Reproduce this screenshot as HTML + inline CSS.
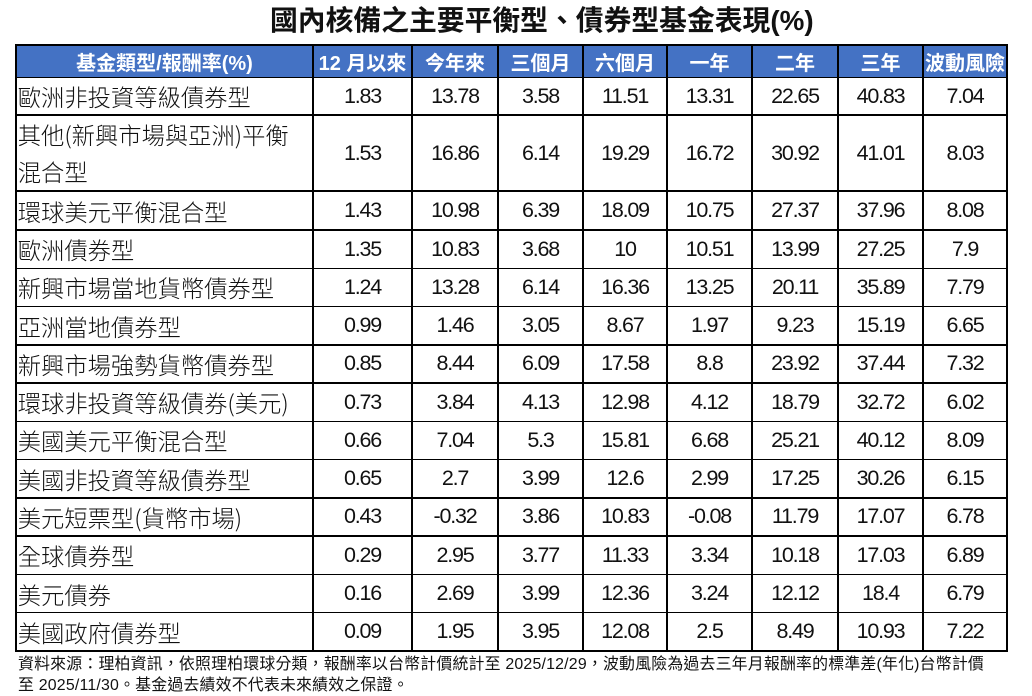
<!DOCTYPE html>
<html>
<head>
<meta charset="utf-8">
<style>
  html, body { margin:0; padding:0; background:#fff; }
  body { width:1032px; height:696px; position:relative; overflow:hidden;
         font-family:"Liberation Sans","Noto Sans CJK TC",sans-serif; color:#000; }
  .title { position:absolute; left:270px; top:5px; height:32px; line-height:32px;
           font-size:27.8px; font-weight:bold; white-space:nowrap; color:#111;
           font-family:"Liberation Sans","Noto Sans CJK TC",sans-serif; }
  .grid { position:absolute; left:15.25px; top:44.25px; padding:1.5px; background:#000;
          display:grid; gap:1.5px;
          grid-template-columns:295.5px 97.5px 84.5px 83.5px 82.5px 83.5px 84.5px 83.5px 82.5px;
          grid-template-rows:31px 36px 74.5px 37.5px repeat(11, 36.77px); }
  .grid > div { background:#fff; display:flex; align-items:center; justify-content:center;
                white-space:nowrap; overflow:hidden; }
  .grid > div.h { background:#4472C4; color:#fff; font-weight:bold; font-size:20px; }
  .grid > div.n { font-size:21.5px; letter-spacing:-1.2px; color:#111; }
  .grid > div.c { justify-content:flex-start; padding-left:1px; font-size:23.3px; font-weight:300;
                  font-family:"Noto Sans CJK TC","Liberation Sans",sans-serif; color:#111; }
  .grid > div.c2 { line-height:37px; white-space:normal; align-items:center; }
  .foot { position:absolute; left:18px; top:654px; font-size:15.9px; line-height:21px;
          white-space:nowrap; color:#111;
          font-family:"Liberation Sans","Noto Sans CJK TC",sans-serif; letter-spacing:0.2px; }
</style>
</head>
<body>
<div class="title">國內核備之主要平衡型、債券型基金表現(%)</div>
<div class="grid">
  <div class="h">基金類型/報酬率(%)</div><div class="h">12 月以來</div><div class="h">今年來</div><div class="h">三個月</div><div class="h">六個月</div><div class="h">一年</div><div class="h">二年</div><div class="h">三年</div><div class="h">波動風險</div>

  <div class="c">歐洲非投資等級債券型</div><div class="n">1.83</div><div class="n">13.78</div><div class="n">3.58</div><div class="n">11.51</div><div class="n">13.31</div><div class="n">22.65</div><div class="n">40.83</div><div class="n">7.04</div>

  <div class="c c2"><span>其他(新興市場與亞洲)平衡<br>混合型</span></div><div class="n">1.53</div><div class="n">16.86</div><div class="n">6.14</div><div class="n">19.29</div><div class="n">16.72</div><div class="n">30.92</div><div class="n">41.01</div><div class="n">8.03</div>

  <div class="c">環球美元平衡混合型</div><div class="n">1.43</div><div class="n">10.98</div><div class="n">6.39</div><div class="n">18.09</div><div class="n">10.75</div><div class="n">27.37</div><div class="n">37.96</div><div class="n">8.08</div>

  <div class="c">歐洲債券型</div><div class="n">1.35</div><div class="n">10.83</div><div class="n">3.68</div><div class="n">10</div><div class="n">10.51</div><div class="n">13.99</div><div class="n">27.25</div><div class="n">7.9</div>

  <div class="c">新興市場當地貨幣債券型</div><div class="n">1.24</div><div class="n">13.28</div><div class="n">6.14</div><div class="n">16.36</div><div class="n">13.25</div><div class="n">20.11</div><div class="n">35.89</div><div class="n">7.79</div>

  <div class="c">亞洲當地債券型</div><div class="n">0.99</div><div class="n">1.46</div><div class="n">3.05</div><div class="n">8.67</div><div class="n">1.97</div><div class="n">9.23</div><div class="n">15.19</div><div class="n">6.65</div>

  <div class="c">新興市場強勢貨幣債券型</div><div class="n">0.85</div><div class="n">8.44</div><div class="n">6.09</div><div class="n">17.58</div><div class="n">8.8</div><div class="n">23.92</div><div class="n">37.44</div><div class="n">7.32</div>

  <div class="c">環球非投資等級債券(美元)</div><div class="n">0.73</div><div class="n">3.84</div><div class="n">4.13</div><div class="n">12.98</div><div class="n">4.12</div><div class="n">18.79</div><div class="n">32.72</div><div class="n">6.02</div>

  <div class="c">美國美元平衡混合型</div><div class="n">0.66</div><div class="n">7.04</div><div class="n">5.3</div><div class="n">15.81</div><div class="n">6.68</div><div class="n">25.21</div><div class="n">40.12</div><div class="n">8.09</div>

  <div class="c">美國非投資等級債券型</div><div class="n">0.65</div><div class="n">2.7</div><div class="n">3.99</div><div class="n">12.6</div><div class="n">2.99</div><div class="n">17.25</div><div class="n">30.26</div><div class="n">6.15</div>

  <div class="c">美元短票型(貨幣市場)</div><div class="n">0.43</div><div class="n">-0.32</div><div class="n">3.86</div><div class="n">10.83</div><div class="n">-0.08</div><div class="n">11.79</div><div class="n">17.07</div><div class="n">6.78</div>

  <div class="c">全球債券型</div><div class="n">0.29</div><div class="n">2.95</div><div class="n">3.77</div><div class="n">11.33</div><div class="n">3.34</div><div class="n">10.18</div><div class="n">17.03</div><div class="n">6.89</div>

  <div class="c">美元債券</div><div class="n">0.16</div><div class="n">2.69</div><div class="n">3.99</div><div class="n">12.36</div><div class="n">3.24</div><div class="n">12.12</div><div class="n">18.4</div><div class="n">6.79</div>

  <div class="c">美國政府債券型</div><div class="n">0.09</div><div class="n">1.95</div><div class="n">3.95</div><div class="n">12.08</div><div class="n">2.5</div><div class="n">8.49</div><div class="n">10.93</div><div class="n">7.22</div>
</div>
<div class="foot">資料來源：理柏資訊，依照理柏環球分類，報酬率以台幣計價統計至 2025/12/29，波動風險為過去三年月報酬率的標準差(年化)台幣計價<br>至 2025/11/30。基金過去績效不代表未來績效之保證。</div>
</body>
</html>
